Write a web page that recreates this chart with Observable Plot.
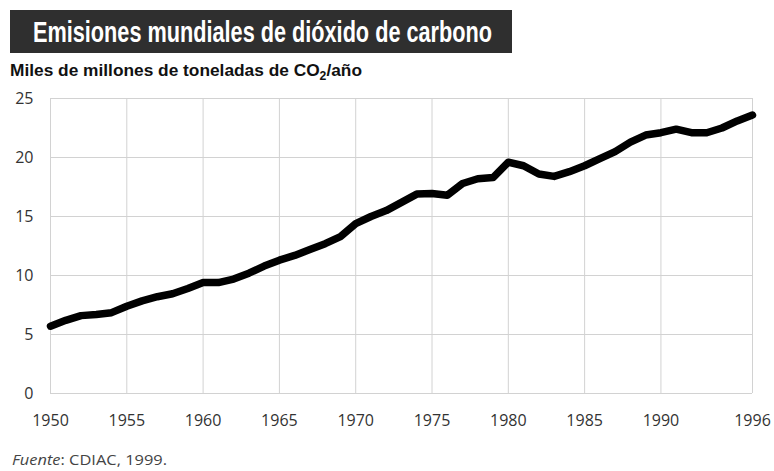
<!DOCTYPE html>
<html>
<head>
<meta charset="utf-8">
<script src="https://cdn.jsdelivr.net/npm/d3@7"></script>
<script src="https://cdn.jsdelivr.net/npm/@observablehq/plot@0.6"></script>
<style>
  html, body { margin: 0; padding: 0; background: #fff; }
  #wrap { position: relative; width: 774px; height: 471px; overflow: hidden; }
  #titlebox {
    position: absolute; left: 10px; top: 10px; width: 502px; height: 43px;
    background: #2f2f2f;
  }
  #title {
    position: absolute; left: 33px; top: 10px; height: 43px;
    color: #fff;
    font-family: "Liberation Sans", Arial, sans-serif;
    font-weight: bold; font-size: 30px; line-height: 43px;
    white-space: nowrap; transform-origin: 0 50%; display: inline-block;
  }
  #subtitle {
    position: absolute; left: 10px; top: 61px;
    font-family: "Liberation Sans", Arial, sans-serif;
    font-weight: bold; font-size: 17px; color: #111; white-space: nowrap;
    transform-origin: 0 50%; display: inline-block;
  }
  #subtitle sub { font-size: 12px; vertical-align: -4px; line-height: 0; }
  #chart { position: absolute; left: 0; top: 85px; }
  #caption {
    position: absolute; left: 12px; top: 450px;
    font-family: "Open Sans", "Liberation Sans", sans-serif;
    font-size: 14px; color: #444; white-space: nowrap;
    transform-origin: 0 50%; display: inline-block;
  }
</style>
</head>
<body>
<div id="wrap">
  <div id="titlebox"></div>
  <div id="title">Emisiones mundiales de dióxido de carbono</div>
  <div id="subtitle">Miles de millones de toneladas de CO<sub>2</sub>/año</div>
  <div id="chart"></div>
  <div id="caption"><i>Fuente</i>: CDIAC, 1999.</div>
</div>
<script>
const years = d3.range(1950, 1997);
const emissions = [
  5.7, 6.2, 6.6, 6.7, 6.85, 7.4, 7.85, 8.2, 8.45, 8.9,
  9.4, 9.4, 9.7, 10.2, 10.8, 11.3, 11.7, 12.2, 12.7, 13.3,
  14.4, 15.0, 15.5, 16.2, 16.9, 16.95, 16.8, 17.8, 18.2, 18.3,
  19.6, 19.3, 18.6, 18.4, 18.8, 19.3, 19.9, 20.5, 21.3, 21.9,
  22.1, 22.4, 22.1, 22.1, 22.5, 23.1, 23.6
];
const xTicks = [1950, 1955, 1960, 1965, 1970, 1975, 1980, 1985, 1990, 1996];
const yTicks = [0, 5, 10, 15, 20, 25];

const data = years.map((y, i) => ({year: y, value: emissions[i]}));

function fitWidth(id, target) {
  const el = document.getElementById(id);
  const w = el.getBoundingClientRect().width;
  if (w > 0) el.style.transform = `scaleX(${target / w})`;
}
fitWidth("title", 459);
fitWidth("subtitle", 352);
fitWidth("caption", 155);

const chart = Plot.plot({
  width: 774,
  height: 355,
  marginLeft: 50,
  marginRight: 22,
  marginTop: 13,
  marginBottom: 47,
  style: {fontFamily: "'Open Sans', 'Liberation Sans', sans-serif", fontSize: "15px", color: "#333", background: "transparent"},
  x: {domain: [1950, 1996], label: null},
  y: {domain: [0, 25], label: null},
  marks: [
    Plot.gridX(xTicks, {stroke: "#d2d2d2", strokeOpacity: 1, strokeWidth: 1}),
    Plot.gridY(yTicks, {stroke: "#d2d2d2", strokeOpacity: 1, strokeWidth: 1}),
    Plot.line(data, {x: "year", y: "value", stroke: "#000", strokeWidth: 7.5, strokeLinejoin: "round", strokeLinecap: "round"}),
    Plot.axisX(xTicks, {tickSize: 0, tickPadding: 21, tickFormat: d => String(d), fill: "#333", fontSize: 16, label: null}),
    Plot.axisY(yTicks, {tickSize: 0, tickPadding: 17, fill: "#333", fontSize: 16, label: null})
  ]
});
document.getElementById("chart").appendChild(chart);
</script>
</body>
</html>
